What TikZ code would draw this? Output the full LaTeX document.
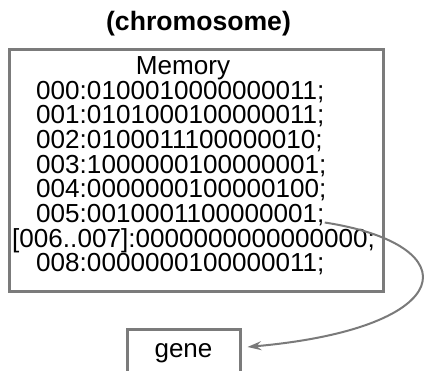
\documentclass[tikz,border=0pt]{standalone}
\usepackage{fontspec}
\setmainfont{Liberation Sans}
\usetikzlibrary{arrows.meta}
\definecolor{boxgray}{HTML}{7B7B7B}
\definecolor{arrgray}{HTML}{7A7A7A}
\begin{document}
\begin{tikzpicture}[x=1pt,y=-1pt,
  memline/.style={anchor=base west,inner sep=0pt,font=\fontsize{26.1}{24.7}\selectfont},
  frame/.style={draw=boxgray,line width=3pt},
  link/.style={draw=arrgray,line width=2pt,-{Stealth[length=14pt,width=9pt,inset=5pt]}}]
\useasboundingbox[fill=white] (0,0) rectangle (426,370);
\node (title) [anchor=base,inner sep=0pt,font=\fontsize{26.6}{30}\selectfont\bfseries] at (198.5,30) {(chromosome)};
\node (mem) [frame,anchor=north west,minimum width=374pt,minimum height=242pt,inner sep=0pt] at (8,48) {};
\node (hdr) [anchor=base,inner sep=0pt,font=\fontsize{26.1}{24.7}\selectfont] at (183,74) {Memory};
\node (l0) [memline] at (36,99) {000:0100010000000011;};
\node (l1) [memline] at (36,123.7) {001:0101000100000011;};
\node (l2) [memline] at (36,148.4) {002:0100011100000010;};
\node (l3) [memline] at (36,173.1) {003:1000000100000001;};
\node (l4) [memline] at (36,197.8) {004:0000000100000100;};
\node (l5) [memline] at (36,222.5) {005:0010001100000001;};
\node (l6) [memline] at (12,247.2) {[006..007]:0000000000000000;};
\node (l8) [memline] at (36,271.9) {008:0000000100000011;};
\node (gene) [frame,anchor=north,minimum width=113pt,minimum height=46pt,inner sep=0pt,
  text height=14pt,text depth=4pt,font=\fontsize{26}{30}\selectfont] at (183.5,328) {gene};
\draw[link,shorten >=6pt] (l5.base east) .. controls (470,245) and (460,328) .. ([yshift=5pt]gene.east);
\end{tikzpicture}
\end{document}
